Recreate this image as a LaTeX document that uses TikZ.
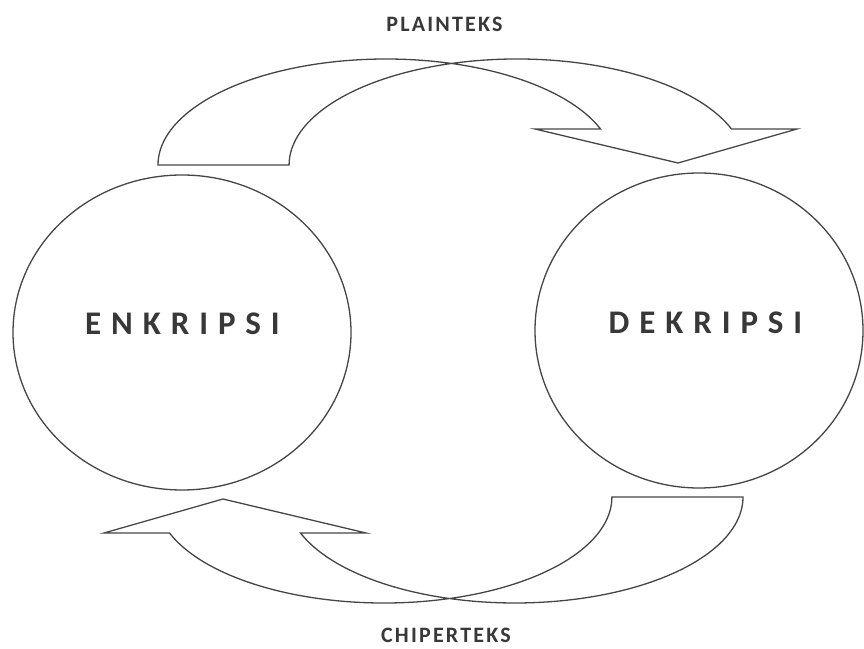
\documentclass[tikz,border=0pt]{standalone}
\usepackage{fontspec}
\setmainfont{Carlito}
\newfontfamily\spacedfont[LetterSpace=30]{Carlito}
\newfontfamily\tagfont[LetterSpace=10]{Carlito}
\usepackage{tikz}
\usetikzlibrary{shapes.geometric}
\definecolor{linegray}{HTML}{454545}
\definecolor{textgray}{HTML}{383838}
\tikzset{
  band/.style={draw=linegray,line width=1.3pt,line join=miter},
  ring/.style={ellipse,draw=linegray,line width=1.3pt,inner sep=0pt},
  ringtext/.style={font=\spacedfont\bfseries\fontsize{33}{33}\selectfont,text=textgray},
  tag/.style={font=\tagfont\bfseries\fontsize{22}{22}\selectfont,text=textgray},
  bentarrow/.pic={
    \draw[band] (158,483)
      arc[start angle=180,end angle=73.3,x radius=228,y radius=106]
      arc[start angle=106.7,end angle=19.85,x radius=228,y radius=106]
      -- (797,519) -- (678,485) -- (535,519) -- (600.5,519)
      arc[start angle=19.85,end angle=73.3,x radius=228,y radius=106]
      arc[start angle=106.7,end angle=180,x radius=228,y radius=106]
      -- cycle;
  }
}

\begin{document}
\begin{tikzpicture}[x=1pt,y=1pt]
  \useasboundingbox (0,0) rectangle (864,648);
  % the two processes
  \node[ring,minimum width=338,minimum height=315] (enkripsi) at (182,315.5) {};
  \node[ring,minimum width=328,minimum height=315] (dekripsi) at (699,317.5) {};
  \node[ringtext] (enktext) at (182.5,324.5) {ENKRIPSI};
  \node[ringtext] (dektext) at (705.5,325.5) {DEKRIPSI};
  % curved block arrows
  \pic at (0,0) {bentarrow};
  \pic[rotate=180] at (901,634) {bentarrow};
  \node[tag] (plain) at (444.5,624) {PLAINTEKS};
  \node[tag] (chiper) at (446,13) {CHIPERTEKS};
\end{tikzpicture}
\end{document}
